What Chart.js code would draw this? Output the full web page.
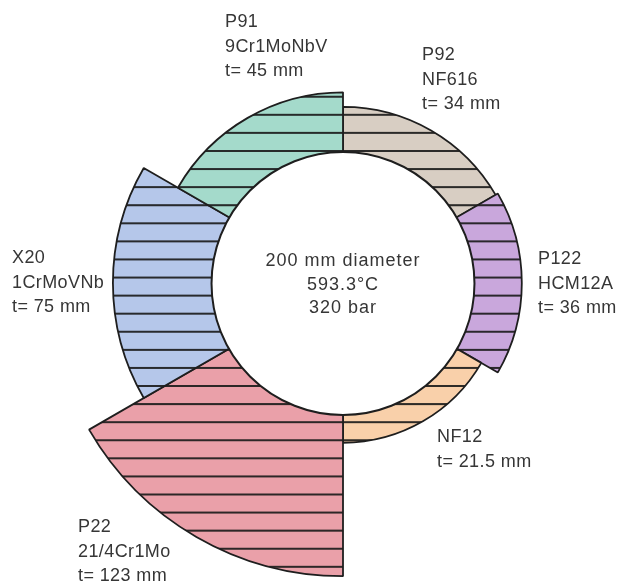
<!DOCTYPE html>
<html>
<head>
<meta charset="utf-8">
<script src="https://cdn.jsdelivr.net/npm/chart.js@4/dist/chart.umd.min.js"></script>
<style>
  html, body { margin: 0; padding: 0; background: #ffffff; }
  #wrap { width: 617px; height: 585px; }
</style>
</head>
<body>
<div id="wrap"><canvas id="pipe" width="617" height="585"></canvas></div>
<script>
// Steel grades around the pipe, clockwise from 12 o'clock
const grades = ['P92', 'P122', 'NF12', 'P22', 'X20', 'P91'];
const alloys = ['NF616', 'HCM12A', '', '21/4Cr1Mo', '1CrMoVNb', '9Cr1MoNbV'];
// Required wall thickness (mm)
const thickness = [34, 36, 21.5, 123, 75, 45];
// Bore and design conditions
const boreDiameter = 200;
const centerLines = ['200 mm diameter', '593.3\u00B0C', '320 bar'];

const boreRadius = boreDiameter / 2;
const outerRadius = thickness.map(t => boreRadius + t);

const fills = ['#d8cec3', '#c9a7dc', '#f9d0aa', '#eaa0a9', '#b5c7ea', '#a4dacb'];

// Horizontal hatching used inside every wall segment
function hatch(color) {
  const tile = document.createElement('canvas');
  tile.width = 8; tile.height = 18;
  const c = tile.getContext('2d');
  c.fillStyle = color;
  c.fillRect(0, 0, 8, 18);
  c.fillStyle = 'rgba(28,28,28,0.92)';
  c.fillRect(0, 0, 8, 2);
  const p = c.createPattern(tile, 'repeat');
  p.setTransform(new DOMMatrix().translate(0, 95.7).scale(1, 18.08 / 18));
  return p;
}

// Text block positions (left x, first baseline)
const labelAnchors = [
  [422, 60], [538, 264], [437, 442], [78, 532], [12, 263], [225, 27]
];
const lineGap = 24.5;
const textFont = '18px "Liberation Sans", Arial, sans-serif';
const textColor = '#363636';

const boreAndLabels = {
  id: 'boreAndLabels',
  afterDatasetsDraw(chart) {
    const ctx = chart.ctx;
    const r = chart.scales.r;
    const rad = r.getDistanceFromCenterForValue(boreRadius);
    ctx.save();
    ctx.beginPath();
    ctx.arc(r.xCenter, r.yCenter + 0.5, rad, 0, Math.PI * 2);
    ctx.fillStyle = '#ffffff';
    ctx.fill();
    ctx.lineWidth = 2;
    ctx.strokeStyle = '#1e1e1e';
    ctx.stroke();
    ctx.restore();
  },
  afterDraw(chart) {
    const ctx = chart.ctx;
    const r = chart.scales.r;
    ctx.save();
    ctx.font = textFont;
    ctx.fillStyle = textColor;
    ctx.textBaseline = 'alphabetic';
    ctx.textAlign = 'left';
    ctx.letterSpacing = '0.4px';
    grades.forEach((g, i) => {
      const lines = [g];
      if (alloys[i]) lines.push(alloys[i]);
      lines.push('t= ' + thickness[i] + ' mm');
      const [x, y] = labelAnchors[i];
      lines.forEach((s, k) => ctx.fillText(s, x, y + k * lineGap));
    });
    ctx.textAlign = 'center';
    ctx.letterSpacing = '1px';
    centerLines.forEach((s, k) => ctx.fillText(s, r.xCenter, 266 + k * 23.5));
    ctx.restore();
  }
};

new Chart(document.getElementById('pipe'), {
  type: 'polarArea',
  data: {
    labels: grades,
    datasets: [{
      data: outerRadius,
      backgroundColor: fills.map(hatch),
      borderColor: '#1e1e1e',
      borderWidth: 1.8,
      clip: false
    }]
  },
  options: {
    responsive: false,
    animation: false,
    layout: { padding: { left: 69, right: 0, top: 9, bottom: 28 } },
    plugins: { legend: { display: false }, tooltip: { enabled: false } },
    scales: {
      r: {
        min: 0,
        max: 208.4,
        bounds: 'data',
        startAngle: 0,
        ticks: { display: false },
        grid: { display: false },
        angleLines: { display: false },
        pointLabels: { display: false }
      }
    }
  },
  plugins: [boreAndLabels]
});
</script>
</body>
</html>
